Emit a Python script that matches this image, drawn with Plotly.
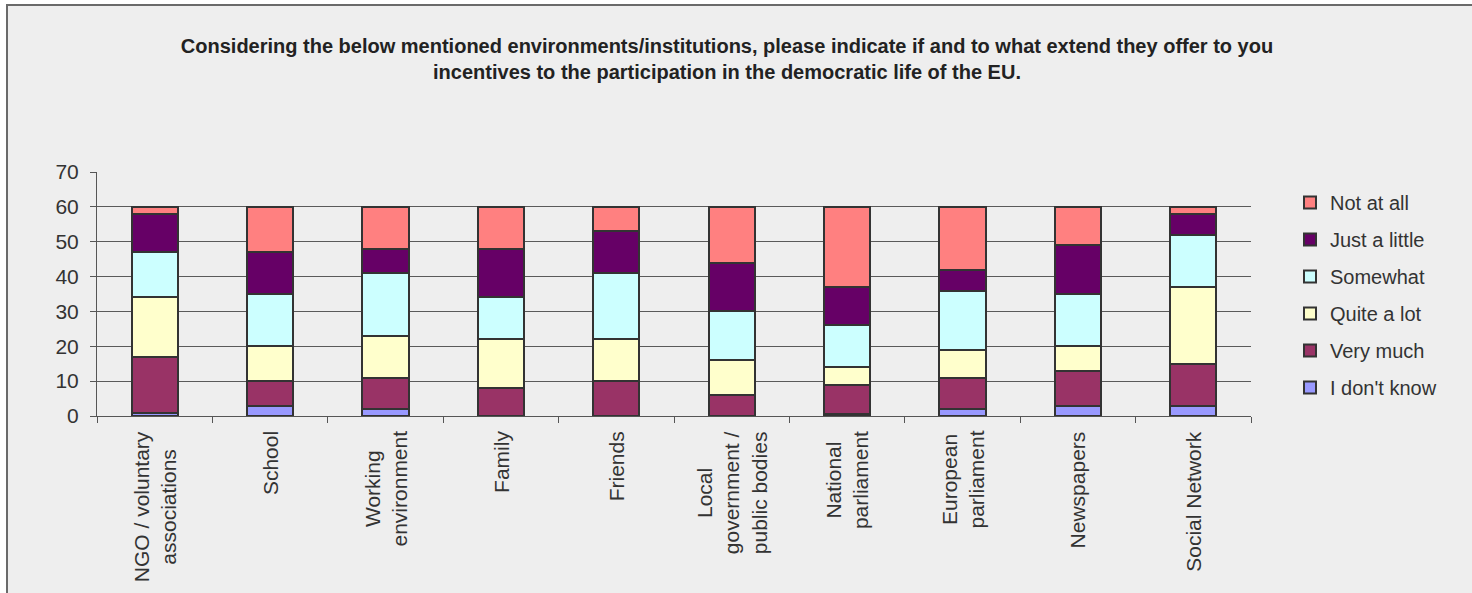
import plotly.graph_objects as go

categories = ["NGO / voluntary<br>associations", "School", "Working<br>environment", "Family", "Friends",
              "Local<br>government /<br>public bodies", "National<br>parliament", "European<br>parliament",
              "Newspapers", "Social Network"]

dont_know   = [1, 3, 2, 0, 0, 0, 0.5, 2, 3, 3]
very_much   = [16, 7, 9, 8, 10, 6, 8.5, 9, 10, 12]
quite_a_lot = [17, 10, 12, 14, 12, 10, 5, 8, 7, 22]
somewhat    = [13, 15, 18, 12, 19, 14, 12, 17, 15, 15]
just_little = [11, 12, 7, 14, 12, 14, 11, 6, 14, 6]
not_at_all  = [2, 13, 12, 12, 7, 16, 23, 18, 11, 2]

series = [
    ("I don't know", dont_know, "#9999ff"),
    ("Very much", very_much, "#993366"),
    ("Quite a lot", quite_a_lot, "#ffffcc"),
    ("Somewhat", somewhat, "#ccffff"),
    ("Just a little", just_little, "#660066"),
    ("Not at all", not_at_all, "#ff8080"),
]

FONT = "Liberation Sans, Arial, sans-serif"

fig = go.Figure()
for i, (name, vals, col) in enumerate(series):
    fig.add_trace(go.Bar(
        x=categories, y=vals, name=name, legendgroup=name,
        legendrank=1000 - i,
        marker=dict(color=col, line=dict(color="#333333", width=2)),
        width=0.4,
    ))

W, H = 1472, 593
L, R, T, B = 97, 1251, 172, 416
pw, ph = R - L, B - T

def px_x(px):
    return (px - L) / pw

def px_y(py):
    return (B - py) / ph

fig.add_shape(type="rect", xref="paper", yref="paper",
              x0=px_x(7), x1=px_x(1600), y0=px_y(5), y1=px_y(700),
              fillcolor="#eeeeee", line=dict(color="#6a6a6a", width=2), layer="below")

for c in categories:
    fig.add_annotation(x=c, xref="x", y=px_y(429), yref="paper",
                       text=c, textangle=-90, showarrow=False,
                       xanchor="center", yanchor="top", align="center",
                       font=dict(family=FONT, size=21, color="#333333"))

fig.update_layout(
    width=W, height=H,
    barmode="stack",
    paper_bgcolor="white",
    plot_bgcolor="#eeeeee",
    margin=dict(l=L, r=W - R, t=T, b=H - B, autoexpand=False),
    font=dict(family=FONT, color="#333333", size=20),
    title=dict(
        text="<b>Considering the below mentioned environments/institutions, please indicate if and to what extend they offer to you<br>incentives to the participation in the democratic life of the EU.</b>",
        x=727 / W, xanchor="center", y=1 - 53 / H, yanchor="top", yref="container",
        font=dict(family=FONT, size=20, color="#222222"),
    ),
    legend=dict(
        x=px_x(1290), xanchor="left", y=px_y(183), yanchor="top",
        traceorder="grouped", tracegroupgap=8,
        font=dict(family=FONT, size=20, color="#333333"),
        bgcolor="rgba(0,0,0,0)", itemwidth=30,
    ),
    bargap=0.6,
)

fig.update_yaxes(range=[0, 70], dtick=10, showgrid=True, gridcolor="#5a5a5a", gridwidth=1,
                 showline=True, linecolor="#555555", linewidth=1,
                 ticks="outside", ticklen=6, tickcolor="#555555", ticklabelstandoff=7,
                 tickfont=dict(family=FONT, size=21, color="#333333"), zeroline=False)
fig.update_xaxes(showgrid=False, showline=True, linecolor="#555555", linewidth=1,
                 ticks="outside", ticklen=6, tickcolor="#555555", tickson="boundaries",
                 showticklabels=False)

fig.write_html("out.html", config={"displayModeBar": False},
               post_script="document.body.style.margin='0';document.body.style.padding='0';")
